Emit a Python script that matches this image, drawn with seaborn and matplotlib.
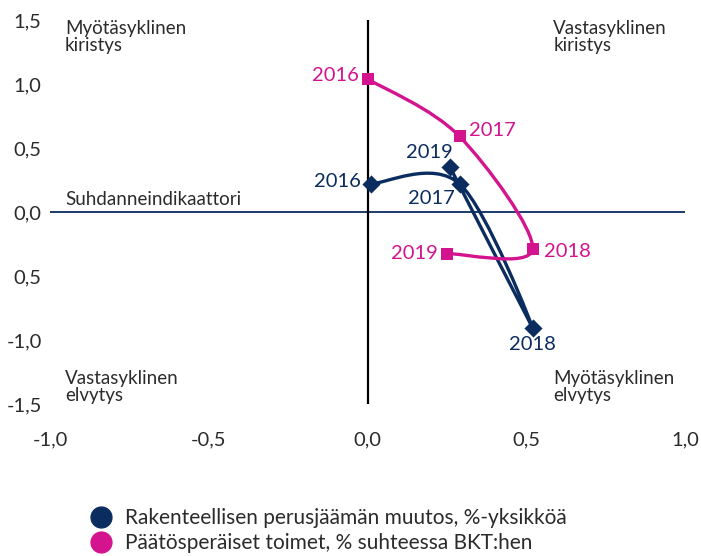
import matplotlib
matplotlib.use("Agg")
import matplotlib.pyplot as plt
from matplotlib.path import Path
from matplotlib.patches import PathPatch
from matplotlib.lines import Line2D
import seaborn as sns
import pandas as pd
import numpy as np

years = ["2016", "2017", "2018", "2019"]
navy_x = [0.01, 0.29, 0.52, 0.26]
navy_y = [0.22, 0.22, -0.905, 0.35]
pink_x = [0.00, 0.29, 0.52, 0.25]
pink_y = [1.04, 0.59, -0.29, -0.325]

x_ticks = [-1.0, -0.5, 0.0, 0.5, 1.0]
x_ticklabels = ["-1,0", "-0,5", "0,0", "0,5", "1,0"]
y_ticks = [1.5, 1.0, 0.5, 0.0, -0.5, -1.0, -1.5]
y_ticklabels = ["1,5", "1,0", "0,5", "0,0", "0,5", "-1,0", "-1,5"]

series_names = ["Rakenteellisen perusjäämän muutos, %-yksikköä",
                "Päätösperäiset toimet, % suhteessa BKT:hen"]
NAVY = "#0b2c5f"
PINK = "#d4148e"
TXT = "#2b2b2b"

sns.set_theme(style="white")
plt.rcParams["font.family"] = ["Lato", "DejaVu Sans"]

fig = plt.figure(figsize=(7.01, 5.56), dpi=100)
ax = fig.add_axes([50 / 701, 1 - 404 / 556, 635 / 701, 384 / 556])
ax.set_xlim(-1.0, 1.0)
ax.set_ylim(-1.5, 1.5)
for s in ax.spines.values():
    s.set_visible(False)

ax.axhline(0, color=NAVY, lw=1.3, zorder=1)
ax.axvline(0, color="black", lw=1.6, zorder=1)


def smooth_path(xs, ys):
    pts = np.column_stack([xs, ys])
    n = len(pts)
    verts = [pts[0]]
    codes = [Path.MOVETO]
    for i in range(n - 1):
        p0 = pts[max(i - 1, 0)]
        p1 = pts[i]
        p2 = pts[i + 1]
        p3 = pts[min(i + 2, n - 1)]
        c1 = p1 + (p2 - p0) / 6.0
        c2 = p2 - (p3 - p1) / 6.0
        verts += [c1, c2, p2]
        codes += [Path.CURVE4] * 3
    return Path(verts, codes)


for xs, ys, col in [(navy_x, navy_y, NAVY), (pink_x, pink_y, PINK)]:
    ax.add_patch(PathPatch(smooth_path(xs, ys), fill=False, edgecolor=col,
                           lw=2.4, zorder=2, capstyle="round", joinstyle="round"))

df_n = pd.DataFrame({"x": navy_x, "y": navy_y, "year": years})
df_p = pd.DataFrame({"x": pink_x, "y": pink_y, "year": years})
sns.scatterplot(data=df_n, x="x", y="y", marker="D", s=85, color=NAVY,
                edgecolor=NAVY, linewidth=0, ax=ax, legend=False, zorder=3)
sns.scatterplot(data=df_p, x="x", y="y", marker="s", s=85, color=PINK,
                edgecolor=PINK, linewidth=0, ax=ax, legend=False, zorder=3)

# year labels (offsets in pixels)
navy_off = [(-10, 2, "right", "center"), (-28, -15, "center", "center"),
            (0, -17, "center", "center"), (-21, 15, "center", "center")]
pink_off = [(-9, 3, "right", "center"), (9, 6, "left", "center"),
            (11, -2, "left", "center"), (-9, 0, "right", "center")]
for i, yr in enumerate(years):
    dx, dy, ha, va = navy_off[i]
    ax.annotate(yr, (navy_x[i], navy_y[i]), xytext=(dx, dy),
                textcoords="offset pixels", ha=ha, va=va, color=NAVY,
                fontsize=14.5, zorder=4)
    dx, dy, ha, va = pink_off[i]
    ax.annotate(yr, (pink_x[i], pink_y[i]), xytext=(dx, dy),
                textcoords="offset pixels", ha=ha, va=va, color=PINK,
                fontsize=14.5, zorder=4)

# quadrant labels
qkw = dict(color=TXT, fontsize=13.5, linespacing=1.0)
ax.text(-0.953, 1.50, "Myötäsyklinen\nkiristys", ha="left", va="top", **qkw)
ax.text(0.585, 1.50, "Vastasyklinen\nkiristys", ha="left", va="top", **qkw)
ax.text(-0.953, -1.50, "Vastasyklinen\nelvytys", ha="left", va="bottom", **qkw)
ax.text(0.585, -1.50, "Myötäsyklinen\nelvytys", ha="left", va="bottom", **qkw)
ax.text(-0.953, 0.03, "Suhdanneindikaattori", ha="left", va="bottom", **qkw)

ax.set_xticks(x_ticks)
ax.set_xticklabels(x_ticklabels)
ax.set_yticks(y_ticks)
ax.set_yticklabels(y_ticklabels)
ax.tick_params(axis="both", length=0, labelsize=14.5, labelcolor=TXT)
ax.tick_params(axis="x", pad=20)
ax.tick_params(axis="y", pad=6)
ax.set_xlabel("")
ax.set_ylabel("")

handles = [Line2D([], [], marker="o", ls="none", markersize=15, color=NAVY),
           Line2D([], [], marker="o", ls="none", markersize=15, color=PINK)]
fig.legend(handles, series_names, loc="upper left",
           bbox_to_anchor=(80 / 701, 1 - 500 / 556), frameon=False,
           fontsize=15, handletextpad=0.55, labelspacing=0.22,
           labelcolor=TXT, handlelength=1.2, borderaxespad=0)

fig.savefig("out.png", dpi=100)
